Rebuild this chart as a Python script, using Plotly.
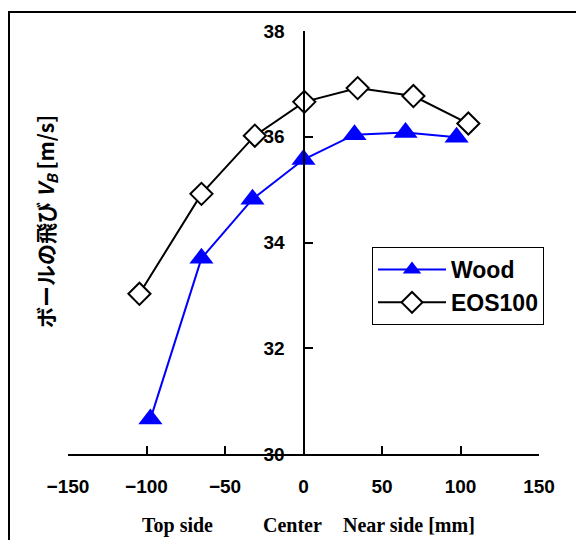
import plotly.graph_objects as go

# Data
wood_x = [-97.5, -65, -32.5, 0, 32.5, 65, 97.5]
wood_y = [30.66, 33.70, 34.82, 35.57, 36.04, 36.08, 35.99]
eos_x = [-104.5, -65, -31, 0.5, 34.5, 70, 105]
eos_y = [33.03, 34.92, 36.02, 36.66, 36.92, 36.77, 36.25]
x_ticks = [-150, -100, -50, 0, 50, 100, 150]
y_ticks = [30, 32, 34, 36, 38]

W, H = 576, 540
L, R, T, B = 68, 37, 31, 86

fig = go.Figure()
fig.add_trace(go.Scatter(
    x=wood_x, y=wood_y, name="Wood", mode="lines+markers", legendgroup="a",
    line=dict(color="#0000FF", width=2),
    marker=dict(symbol="triangle-up", size=21, color="#0000FF", line=dict(width=0)),
))
fig.add_trace(go.Scatter(
    x=eos_x, y=eos_y, name="EOS100", mode="lines+markers", legendgroup="b",
    line=dict(color="black", width=2),
    marker=dict(symbol="diamond", size=17, color="white", line=dict(color="black", width=2)),
))

tickfont = dict(family="Liberation Sans", size=19, color="black", weight="bold")
fig.update_layout(
    width=W, height=H,
    margin=dict(l=L, r=R, t=T, b=B, pad=0),
    paper_bgcolor="white", plot_bgcolor="white",
    showlegend=True,
    legend=dict(x=(372 - L) / (W - L - R), y=(H - B - 247) / (H - T - B),
                xanchor="left", yanchor="top",
                bordercolor="black", borderwidth=1, bgcolor="white",
                font=dict(family="Liberation Sans", size=23, color="black", weight="bold"),
                itemwidth=68, tracegroupgap=0, entrywidth=196, entrywidthmode="pixels"),
    xaxis=dict(range=[-150, 150], tickvals=x_ticks, ticktext=[str(v).replace("-", "−") for v in x_ticks],
               showgrid=False, zeroline=False, showline=True, linecolor="black", linewidth=2,
               ticks="inside", ticklen=8, tickwidth=2, tickcolor="black",
               tickfont=tickfont, ticklabelstandoff=14),
    yaxis=dict(range=[30, 38], tickvals=y_ticks, anchor="free", position=0.5,
               showgrid=False, zeroline=False, showline=True, linecolor="black", linewidth=2,
               ticks="inside", ticklen=8, tickwidth=2, tickcolor="black",
               tickfont=tickfont, ticklabelstandoff=14),
)

pw, ph = W - L - R, H - T - B
def px2paper(px, py):
    return (px - L) / pw, (H - B - py) / ph

# frame
x0, y1 = px2paper(9, 12)
x1, y0 = px2paper(590, 560)
fig.add_shape(type="rect", xref="paper", yref="paper", x0=x0, x1=x1, y0=y0, y1=y1,
              line=dict(color="black", width=2), fillcolor="rgba(0,0,0,0)", layer="above")

# y title
ax, ay = px2paper(46, 222)
fig.add_annotation(xref="paper", yref="paper", x=ax, y=ay, xanchor="center", yanchor="middle",
                   textangle=-90, showarrow=False,
                   text="ボールの飛び <i>V<sub>B</sub></i> [m/s]",
                   font=dict(family="Noto Sans CJK JP", size=21, color="black", weight="bold"))

# x title pieces
for label, cx in [("Top side", 177), ("Center", 292), ("Near side [mm]", 409)]:
    ax, ay = px2paper(cx, 525)
    fig.add_annotation(xref="paper", yref="paper", x=ax, y=ay, xanchor="center", yanchor="middle",
                       showarrow=False, text=label,
                       font=dict(family="Liberation Serif", size=20, color="black", weight="bold"))

fig.write_html("out.html")
